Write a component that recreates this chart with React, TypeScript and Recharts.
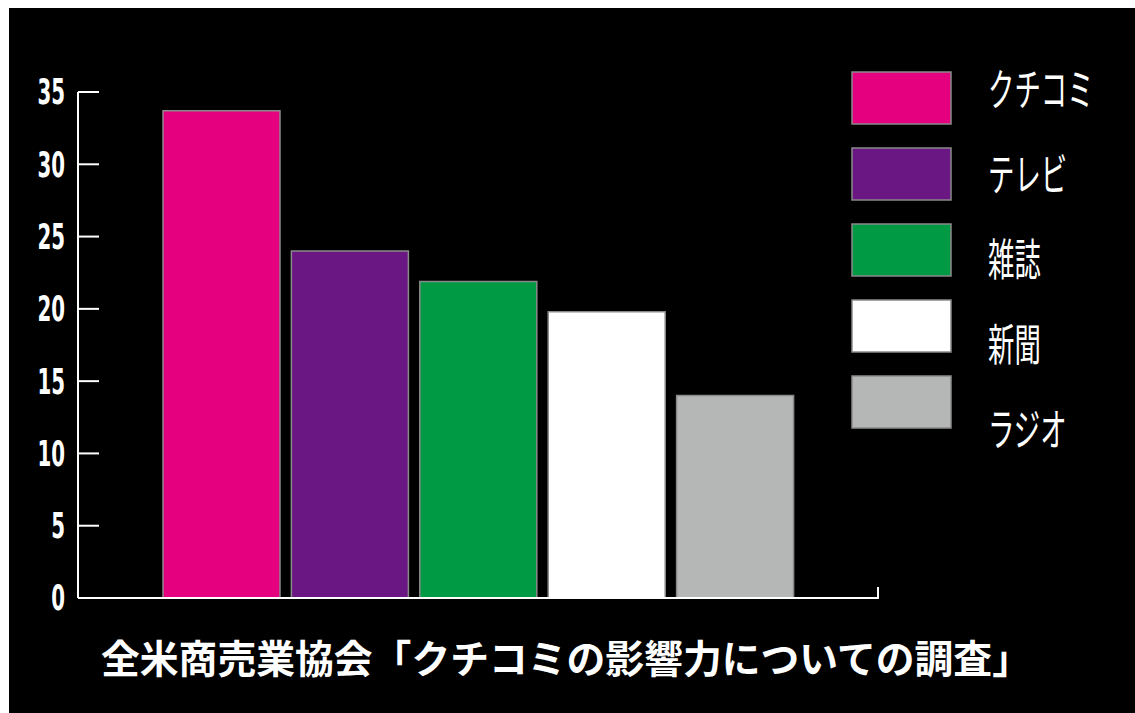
import React from "react";
import { BarChart, Bar, XAxis, YAxis, Cell } from "recharts";

// media names (categories) and their share values
const categories = ["クチコミ", "テレビ", "雑誌", "新聞", "ラジオ"];
const values = [33.7, 24.0, 21.9, 19.8, 14.0];
const colors = ["#E4007F", "#6A1784", "#009944", "#FFFFFF", "#B5B6B6"];
const yTicks = [0, 5, 10, 15, 20, 25, 30, 35];
const title = "全米商売業協会「クチコミの影響力についての調査」";

const chartData = categories.map((name, i) => ({ name, value: values[i] }));

const CJK = "'Noto Sans CJK JP', 'Noto Sans CJK SC', sans-serif";

const YTick = ({ x, y, payload }: any) => {
  const label = String(payload.value);
  return (
    <g>
      <line x1={x + 13} x2={x + 34} y1={y} y2={y} stroke="#fff" strokeWidth={2} />
      {/* condensed digits */}
      <g transform={`translate(${x}, ${y}) scale(0.55, 1)`}>
        <text
          x={0}
          y={0}
          textAnchor="end"
          dominantBaseline="central"
          fill="#fff"
          fontFamily="'DejaVu Sans', sans-serif"
          fontWeight={700}
          fontSize={36}
        >
          {label}
        </text>
      </g>
    </g>
  );
};

// legend swatches + labels, drawn next to the plot
const Legend = () => (
  <g>
    {categories.map((name, i) => (
      <g key={name}>
        <rect
          x={852}
          y={72 + i * 76}
          width={99}
          height={52}
          fill={colors[i]}
          stroke="#8a8a8a"
          strokeWidth={1.5}
        />
        <g transform={`translate(988, ${87 + i * 85}) scale(0.6, 1)`}>
          <text x={0} y={0} dominantBaseline="central" fill="#fff" fontFamily={CJK} fontSize={44}>
            {name}
          </text>
        </g>
      </g>
    ))}
  </g>
);

export default function App() {
  return (
    <div style={{ position: "fixed", left: 0, top: 0, width: 1135, height: 713, background: "#fff" }}>
      <div style={{ position: "absolute", left: 9, top: 8, width: 1126, height: 705, background: "#000" }} />
      <div style={{ position: "absolute", left: 0, top: 0 }}>
        <BarChart
          width={1135}
          height={713}
          data={chartData}
          margin={{ top: 92, right: 257, bottom: 113, left: 0 }}
        >
          <YAxis
            width={78}
            domain={[0, 35]}
            ticks={yTicks}
            interval={0}
            tickSize={0}
            tickMargin={13}
            axisLine={{ stroke: "#fff", strokeWidth: 2 }}
            tickLine={false}
            tick={<YTick />}
          />
          <XAxis
            dataKey="name"
            height={2}
            padding={{ left: 79, right: 79 }}
            tick={false}
            tickLine={false}
            axisLine={{ stroke: "#fff", strokeWidth: 2 }}
          />
          <Bar dataKey="value" barSize={117} stroke="#8a8a8a" strokeWidth={1.5} isAnimationActive={false}>
            {chartData.map((d, i) => (
              <Cell key={d.name} fill={colors[i]} />
            ))}
          </Bar>
        </BarChart>
      </div>
      <svg width={1135} height={713} style={{ position: "absolute", left: 0, top: 0, pointerEvents: "none" }}>
        <line x1={878} x2={878} y1={587} y2={599} stroke="#fff" strokeWidth={2} />
        <Legend />
        <text
          x={101}
          y={656}
          dominantBaseline="central"
          fill="#fff"
          fontFamily={CJK}
          fontWeight={700}
          fontSize={38.8}
        >
          {title}
        </text>
      </svg>
    </div>
  );
}
